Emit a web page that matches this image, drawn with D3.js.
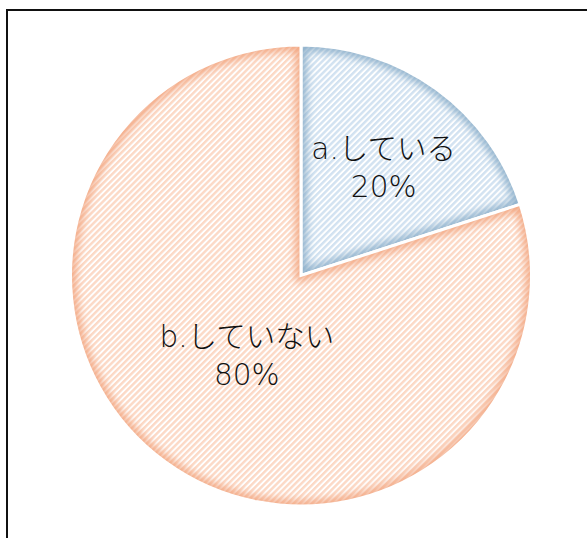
<!DOCTYPE html>
<html>
<head>
<meta charset="utf-8">
<script src="https://cdn.jsdelivr.net/npm/d3@7/dist/d3.min.js"></script>
<style>
  html, body { margin: 0; padding: 0; background: #fff; overflow: hidden; }
  svg { display: block; }
</style>
</head>
<body>
<div id="chart"></div>
<script>
// データ
const categories = ['a.している', 'b.していない'];
const values     = [20, 80];
const percents   = ['20%', '80%'];

const stripeColors = ['#d2e2f1', '#fcd9c6'];
const edgeColors   = ['#7aa2c0', '#f09a70'];
const labelRadius  = [0.61, 0.40];

const W = 587, H = 538;
const cx = 301, cy = 275.5, R = 230.5;

const svg = d3.select('#chart').append('svg')
    .attr('width', W).attr('height', H);

const defs = svg.append('defs');

// 斜線パターン
stripeColors.forEach((c, i) => {
    const p = defs.append('pattern')
        .attr('id', `stripe${i}`)
        .attr('patternUnits', 'userSpaceOnUse')
        .attr('width', 4.3).attr('height', 4.3)
        .attr('patternTransform', 'rotate(45)');
    p.append('rect').attr('width', 4.3).attr('height', 4.3).attr('fill', '#fff');
    p.append('rect').attr('width', 2.4).attr('height', 4.3).attr('fill', c);
});

defs.append('filter')
    .attr('id', 'soft')
    .attr('x', '-10%').attr('y', '-10%')
    .attr('width', '120%').attr('height', '120%')
    .append('feGaussianBlur').attr('stdDeviation', 4);

// 枠
svg.append('rect')
    .attr('x', 7).attr('y', 10)
    .attr('width', 700).attr('height', 700)
    .attr('fill', 'none')
    .attr('stroke', '#111').attr('stroke-width', 2);

const pie = d3.pie().sort(null).value(d => d)(values);
const arc = d3.arc().innerRadius(0).outerRadius(R);

const g = svg.append('g').attr('transform', `translate(${cx},${cy})`);

pie.forEach((d, i) => {
    defs.append('clipPath').attr('id', `clip${i}`)
        .attr('transform', `translate(${cx},${cy})`)
        .append('path').attr('d', arc(d));
});

const slices = g.selectAll('g.slice').data(pie).join('g').attr('class', 'slice');

slices.append('path')
    .attr('d', arc)
    .attr('fill', (d, i) => `url(#stripe${i})`);

// 内側のふち取り（ぼかした線をスライスで切り抜く）
slices.append('g')
    .attr('clip-path', (d, i) => `url(#clip${i})`)
    .attr('transform', `translate(${-cx},${-cy})`)
    .append('path')
    .attr('transform', `translate(${cx},${cy})`)
    .attr('d', arc)
    .attr('fill', 'none')
    .attr('stroke', (d, i) => edgeColors[i])
    .attr('stroke-width', 11)
    .attr('stroke-opacity', 0.8)
    .attr('filter', 'url(#soft)');

slices.append('path')
    .attr('d', arc)
    .attr('fill', 'none')
    .attr('stroke', '#fff')
    .attr('stroke-width', 3)
    .attr('stroke-linejoin', 'miter');

// ラベル
const labels = g.selectAll('text.lbl').data(pie).join('text')
    .attr('class', 'lbl')
    .attr('text-anchor', 'middle')
    .attr('transform', (d, i) => {
        const r = R * labelRadius[i];
        const [x, y] = d3.arc().innerRadius(r).outerRadius(r).centroid(d);
        return `translate(${x},${y})`;
    })
    .style('font-family', '"DejaVu Sans", "Noto Sans CJK JP", sans-serif')
    .style('font-size', '29.5px')
    .style('font-weight', 300)
    .style('fill', '#111');

labels.append('tspan').attr('x', 0).attr('dy', '-0.1em').text((d, i) => categories[i]);
labels.append('tspan').attr('x', 0).attr('dy', '1.3em').text((d, i) => percents[i]);
</script>
</body>
</html>
